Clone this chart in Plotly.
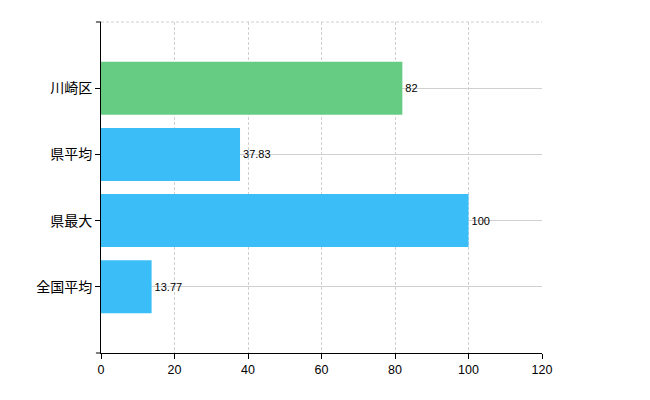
import plotly.graph_objects as go

categories = ["全国平均", "県最大", "県平均", "川崎区"]
values = [13.77, 100, 37.83, 82]
labels = ["13.77", "100", "37.83", "82"]
colors = ["#3BBEF7", "#3BBEF7", "#3BBEF7", "#66CC84"]
x_ticks = [0, 20, 40, 60, 80, 100, 120]

fig = go.Figure(go.Bar(
    y=categories, x=values, orientation="h",
    marker=dict(color=colors, line=dict(width=0)),
    width=0.8,
    text=labels, textposition="outside", cliponaxis=False,
    textfont=dict(family="Liberation Sans, Arial, sans-serif", size=11, color="#000000"),
))

fig.update_layout(
    width=642, height=392,
    margin=dict(l=93, r=108, t=14, b=47, autoexpand=False),
    paper_bgcolor="white", plot_bgcolor="white",
    showlegend=False,
    font=dict(family="Noto Sans CJK JP, Liberation Sans, sans-serif", size=12, color="#000"),
    xaxis=dict(
        range=[0, 120], tickvals=x_ticks, showgrid=True, gridcolor="#D0D0D0",
        griddash="3px,2px", gridwidth=1, zeroline=False, automargin=False,
        showline=True, linecolor="#000", linewidth=1,
        ticks="outside", ticklen=5, tickcolor="#000",
        tickfont=dict(family="Liberation Sans, Arial, sans-serif", size=12.5),
    ),
    yaxis=dict(
        type="category", range=[-1, 4], showgrid=True, gridcolor="#D0D0D0",
        gridwidth=1, zeroline=False, automargin=False,
        showline=True, linecolor="#000", linewidth=1,
        ticks="outside", ticklen=5, tickcolor="#000",
        tickfont=dict(family="Noto Sans CJK JP, sans-serif", size=14),
    ),
    bargap=0.2,
)

# top dashed border and edge ticks
fig.add_shape(type="line", xref="paper", yref="paper", x0=0, x1=1, y0=1, y1=1,
              line=dict(color="#D0D0D0", width=1, dash="3px,2px"), layer="below")
fig.add_shape(type="line", xref="paper", yref="paper", x0=-0.0115, x1=0, y0=1, y1=1,
              line=dict(color="#000", width=1))
fig.add_shape(type="line", xref="paper", yref="paper", x0=-0.0115, x1=0, y0=0, y1=0,
              line=dict(color="#000", width=1))

fig.write_html("out.html")
